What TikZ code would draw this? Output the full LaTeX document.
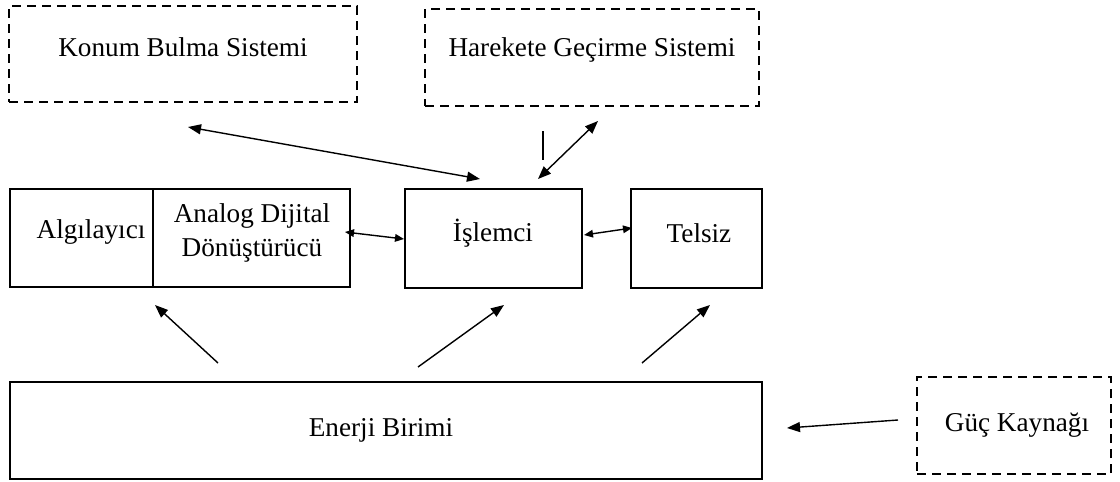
\documentclass[tikz,border=0pt]{standalone}
\usepackage{fontspec}
\setmainfont{Liberation Serif}
\usetikzlibrary{arrows.meta}
\begin{document}
\begin{tikzpicture}[x=0.5pt,y=-0.5pt,
  box/.style={draw,line width=1pt,rectangle,inner sep=0pt,outer sep=0pt},
  dbox/.style={box,line width=1.2pt,dash pattern=on 4.5pt off 3pt},
  txt/.style={inner sep=0pt,font=\fontsize{13.6}{17}\selectfont,align=center},
  link/.style={line width=0.7pt},
  big/.style={link,-{Triangle[length=6.5pt,width=5pt]}},
  bigboth/.style={link,{Triangle[length=6.5pt,width=5pt]}-{Triangle[length=6.5pt,width=5pt]}},
  smallboth/.style={link,{Triangle[length=4.5pt,width=3.8pt]}-{Triangle[length=4.5pt,width=3.8pt]}}]
\useasboundingbox (0,0) rectangle (1120,482);

% system blocks
\node[dbox,minimum width=174pt,minimum height=48pt] (konum) at (183,54) {};
\node[txt] (konumtxt) at (183,47) {Konum Bulma Sistemi};
\node[dbox,minimum width=167pt,minimum height=48.5pt] (hareket) at (592,57.5) {};
\node[txt] (harekettxt) at (592,50) {Harekete Geçirme Sistemi};

\node[box,minimum width=71.5pt,minimum height=49pt] (algi) at (81.5,238) {};
\node[txt] (algitxt) at (91,232) {Algılayıcı};
\node[box,minimum width=98.5pt,minimum height=49pt] (adc) at (251.5,238) {};
\node[txt] (adctxt) at (252,233) {Analog Dijital\\Dönüştürücü};
\node[box,minimum width=88.5pt,minimum height=49.5pt] (islemci) at (493.5,238.5) {};
\node[txt] (islemcitxt) at (493,233) {İşlemci};
\node[box,minimum width=65.5pt,minimum height=49.5pt] (telsiz) at (696.5,238.5) {};
\node[txt] (telsiztxt) at (699,233) {Telsiz};

\node[box,minimum width=376pt,minimum height=48.5pt] (enerji) at (386,430.5) {};
\node[txt] (enerjitxt) at (381,430) {Enerji Birimi};
\node[dbox,minimum width=97pt,minimum height=48.5pt] (guc) at (1014,425.5) {};
\node[txt] (guctxt) at (1017,425) {Güç Kaynağı};

% connector end points
\coordinate (k1) at (188,127);
\coordinate (k2) at (480,179);
\coordinate (h1) at (598,121);
\coordinate (h2) at (538,179);
\coordinate (v1) at (543,131);
\coordinate (v2) at (543,160);
\coordinate (a1) at (345,232);
\coordinate (a2) at (404,239);
\coordinate (t1) at (584,235);
\coordinate (t2) at (632,228);
\coordinate (e1s) at (218,363);
\coordinate (e1t) at (155,305);
\coordinate (e2s) at (418,367);
\coordinate (e2t) at (504,305);
\coordinate (e3s) at (642,363);
\coordinate (e3t) at (710,305);
\coordinate (gs) at (898,420);
\coordinate (gt) at (787,428);

% connectors
\draw[bigboth] (k1) -- (k2);
\draw[bigboth] (h1) -- (h2);
\draw[link] (v1) -- (v2);
\draw[smallboth] (a1) -- (a2);
\draw[smallboth] (t1) -- (t2);
\draw[big] (e1s) -- (e1t);
\draw[big] (e2s) -- (e2t);
\draw[big] (e3s) -- (e3t);
\draw[big] (gs) -- (gt);
\end{tikzpicture}
\end{document}
